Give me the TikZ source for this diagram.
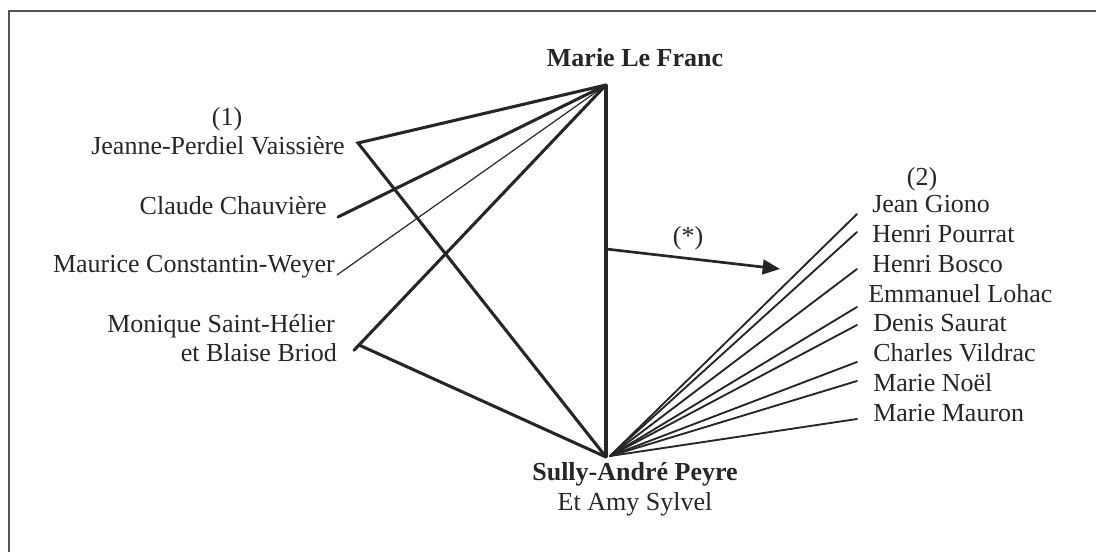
\documentclass[tikz,border=0pt]{standalone}
\usepackage{fontspec}
\setmainfont{Liberation Serif}
\usetikzlibrary{arrows.meta,calc}
\definecolor{ink}{RGB}{38,38,38}
\definecolor{framecol}{RGB}{85,85,85}
\begin{document}
\begin{tikzpicture}[x=0.75pt,y=-0.75pt,
  every node/.style={inner sep=0pt, text=ink, font=\fontsize{19.5}{22}\selectfont},
  boldlbl/.style={anchor=base, font=\fontsize{19.5}{22}\selectfont\bfseries},
  leftlbl/.style={anchor=base east},
  rightlbl/.style={anchor=base west},
  heavy/.style={draw=ink, line width=2.3pt, line cap=round, line join=miter},
  fine/.style={draw=ink, line width=0.9pt, line cap=round},
  fan/.style={draw=ink, line width=1.4pt, line cap=round},
  arrowline/.style={draw=ink, line width=2pt, -{Triangle[length=13pt,width=11pt]}}]
\useasboundingbox (0,0) rectangle (1096,552);
% frame
\draw[framecol, line width=1.2pt] (1096,11) -- (9,11) -- (9,552);

% main nodes
\node[boldlbl] (mlf) at (635,67) {Marie Le Franc};
\node[boldlbl] (sap) at (635,480) {Sully-André Peyre};
\node[anchor=base] (eas) at (635,510) {Et Amy Sylvel};

% left group
\node[anchor=base] (n1) at (227,126) {(1)};
\node[leftlbl] (jpv) at (345,155) {Jeanne-Perdiel Vaissière};
\node[leftlbl] (cc) at (327,215) {Claude Chauvière};
\node[leftlbl] (mcw) at (335,273) {Maurice Constantin-Weyer};
\node[leftlbl] (msh) at (335,333) {Monique Saint-Hélier};
\node[leftlbl] (bb) at (337,361) {et Blaise Briod};

% right group
\node[anchor=base] (n2) at (922,186) {(2)};
\node[rightlbl] (jg) at (872,213) {Jean Giono};
\node[rightlbl] (hp) at (872,243) {Henri Pourrat};
\node[rightlbl] (hb) at (872,273) {Henri Bosco};
\node[rightlbl] (el) at (868,303) {Emmanuel Lohac};
\node[rightlbl] (ds) at (873,331) {Denis Saurat};
\node[rightlbl] (cv) at (873,361) {Charles Vildrac};
\node[rightlbl] (mn) at (873,391) {Marie Noël};
\node[rightlbl] (mm) at (873,421) {Marie Mauron};

% connection points
\coordinate (T) at (606,85);
\coordinate (B) at (606,457);
\coordinate (F) at (610,456);
\coordinate (J) at (358,143);
\coordinate (C) at (338,217);
\coordinate (M) at (337,275);
\coordinate (Mo) at (359,345);
\coordinate (Mx) at ($(T)!1.02!(Mo)$);
\coordinate (A0) at (606,249);
\coordinate (A1) at (780,269);
\coordinate (g1) at (857,214);
\coordinate (g2) at (857,232);
\coordinate (g3) at (857,269);
\coordinate (g4) at (857,307);
\coordinate (g5) at (857,325);
\coordinate (g6) at (857,362);
\coordinate (g7) at (857,381);
\coordinate (g8) at (857,419);

% left connectors
\draw[heavy] (T) -- (J) -- (B);
\draw[heavy] (C) -- (T);
\draw[fine] (M) -- (T);
\draw[heavy] (T) -- (Mx);
\draw[heavy] (Mo) -- (B);
\draw[heavy, line cap=butt] (T) -- (B);

% arrow (*)
\draw[arrowline] (A0) -- (A1);
\node[anchor=base] (star) at (688,245) {(*)};

% fan to right group
\foreach \g in {g1,g2,g3,g4,g5,g6,g7,g8}
  \draw[fan] (F) -- (\g);
\end{tikzpicture}
\end{document}
